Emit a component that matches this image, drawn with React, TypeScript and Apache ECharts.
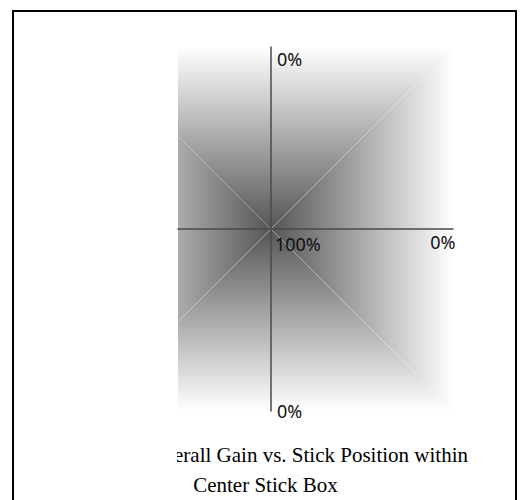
import React, { useEffect, useRef } from "react";
import * as echarts from "echarts";

// Stick deflection square (normalized units), corners clockwise from top-left
const squareCorners: number[][] = [
  [-1, 1],
  [1, 1],
  [1, -1],
  [-1, -1],
];
// Gain at the stick centre and at the box edge (percent)
const gainCenter = 100;
const gainEdge = 0;
// Gain label anchor points (stick position) and their texts
const labelPoints: number[][] = [
  [0, 0],
  [0, 1],
  [1, 0],
  [0, -1],
];
const labelTexts = ["100%", "0%", "0%", "0%"];
// Visible stick range
const xMin = -0.51;
const xMax = 1;
const yMin = -1;
const yMax = 1;
const titleLine1 = "Overall Gain vs. Stick Position within";
const titleLine2 = "Center Stick Box";

function gainToGray(g: number): string {
  const v = Math.round(255 - (g / 100) * 170);
  return `rgb(${v},${v},${v})`;
}

const labelOffsets = [
  [4, 14.5],
  [6, 11.5],
  [2.5, 12.5],
  [6, 0],
];
const labelAligns = ["left", "left", "right", "left"];

export default function App() {
  const ref = useRef<HTMLDivElement>(null);
  useEffect(() => {
    if (!ref.current) return;
    const chart = echarts.init(ref.current, undefined, { renderer: "svg" });
    const triangles = squareCorners.map((c, i) => {
      const n = squareCorners[(i + 1) % squareCorners.length];
      return [c[0], c[1], n[0], n[1]];
    });
    const stops = [
      { offset: 0, color: gainToGray(gainCenter) },
      { offset: 1, color: gainToGray(gainEdge) },
    ];
    const axisLineStyle = { color: "#4a4a4a", width: 1.5 };
    chart.setOption({
      animation: false,
      grid: { left: 178, width: 275, top: 47, height: 364 },
      xAxis: {
        type: "value",
        min: xMin,
        max: xMax,
        z: 5,
        axisLine: { show: true, onZero: true, lineStyle: axisLineStyle },
        axisTick: { show: false },
        axisLabel: { show: false },
        splitLine: { show: false },
      },
      yAxis: {
        type: "value",
        min: yMin,
        max: yMax,
        z: 5,
        axisLine: { show: true, onZero: true, lineStyle: axisLineStyle },
        axisTick: { show: false },
        axisLabel: { show: false },
        splitLine: { show: false },
      },
      series: [
        {
          type: "custom",
          clip: true,
          silent: true,
          data: triangles,
          renderItem: (params: any, api: any) => {
            const v0 = api.value(0),
              v1 = api.value(1),
              v2 = api.value(2),
              v3 = api.value(3);
            const o = api.coord([0, 0]);
            const a = api.coord([v0, v1]);
            const b = api.coord([v2, v3]);
            const m = api.coord([(v0 + v2) / 2, (v1 + v3) / 2]);
            return {
              type: "group",
              children: [
                {
                  type: "polygon",
                  shape: { points: [o, a, b] },
                  style: {
                    fill: {
                      type: "linear",
                      x: o[0],
                      y: o[1],
                      x2: m[0],
                      y2: m[1],
                      global: true,
                      colorStops: stops,
                    },
                  },
                },
                {
                  type: "line",
                  shape: { x1: o[0], y1: o[1], x2: a[0], y2: a[1] },
                  style: { stroke: "rgba(255,255,255,0.35)", lineWidth: 0.8 },
                },
              ],
            };
          },
        },
        {
          type: "custom",
          clip: false,
          silent: true,
          z: 10,
          data: labelPoints.map((p, i) => [p[0], p[1], i]),
          renderItem: (params: any, api: any) => {
            const i = api.value(2);
            const p = api.coord([api.value(0), api.value(1)]);
            return {
              type: "text",
              x: p[0] + labelOffsets[i][0],
              y: p[1] + labelOffsets[i][1],
              style: {
                text: labelTexts[i],
                font: '18px "Noto Sans"',
                fill: "#111",
                align: labelAligns[i],
                verticalAlign: "middle",
              },
            };
          },
        },
      ],
      graphic: [
        {
          type: "text",
          x: 468,
          y: 455,
          style: {
            text: titleLine1,
            font: '21px "Liberation Serif"',
            fill: "#000",
            align: "right",
            verticalAlign: "middle",
          },
        },
        {
          type: "text",
          x: 265.5,
          y: 485,
          style: {
            text: titleLine2,
            font: '21px "Liberation Serif"',
            fill: "#000",
            align: "center",
            verticalAlign: "middle",
          },
        },
        {
          type: "rect",
          shape: { x: 15, y: 430, width: 162, height: 70 },
          style: { fill: "#fff" },
        },
        {
          type: "rect",
          shape: { x: 13, y: 11, width: 503, height: 600 },
          style: { fill: "none", stroke: "#000", lineWidth: 2 },
        },
      ],
    });
    return () => chart.dispose();
  }, []);
  return (
    <div
      ref={ref}
      style={{ position: "absolute", left: 0, top: 0, width: 521, height: 500 }}
    />
  );
}
